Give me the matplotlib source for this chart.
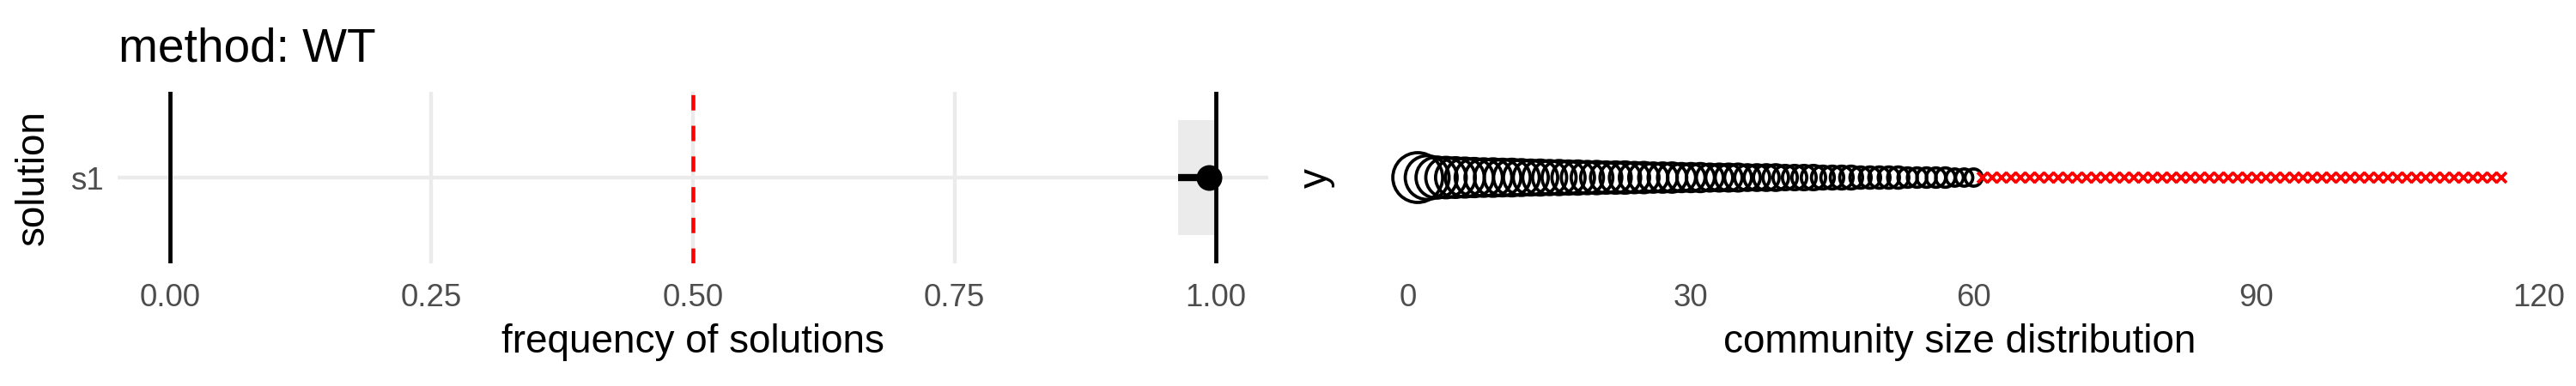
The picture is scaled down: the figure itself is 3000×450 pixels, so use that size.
import numpy as np
import matplotlib
matplotlib.use("Agg")
import matplotlib.pyplot as plt

plt.rcParams['font.family'] = ['Liberation Sans', 'DejaVu Sans']

# left panel: frequency of solutions
solutions = ['s1']
freq = [0.993]
freq_lo = [0.964]
freq_hi = [1.0]
ref_lines = [0.0, 1.0]
half_line = 0.5
freq_ticks = [0.0, 0.25, 0.5, 0.75, 1.0]

# right panel: community sizes (sorted), then singletons
comm_sizes = [38, 28, 24, 23, 22, 21, 20, 19, 19, 18,
              18, 17, 16, 16, 15, 15, 14, 14, 13, 13,
              12, 12, 12, 11, 11, 10, 10, 10, 9, 9,
              9, 8, 8, 8, 8, 7, 7, 7, 7, 6,
              6, 6, 6, 5, 5, 5, 5, 4, 4, 4,
              4, 4, 3, 3, 3, 3, 3, 2, 2, 2]
n_singletons = 56
size_ticks = [0, 30, 60, 90, 120]

W, H = 3000, 450
DPI = 300
fig = plt.figure(figsize=(W / DPI, H / DPI), dpi=DPI)
px2pt = 72.0 / DPI

grid_col = '#EBEBEB'
tick_col = '#4D4D4D'

# ---------------- left panel ----------------
ax1 = fig.add_axes([137 / W, (H - 307) / H, 1340 / W, 200 / H])
ypos = np.arange(1, len(solutions) + 1)
ax1.set_xlim(-0.05, 1.05)
ax1.set_ylim(0.4, len(solutions) + 0.6)
for t in freq_ticks:
    ax1.axvline(t, color=grid_col, lw=1.05, zorder=0)
for yy in ypos:
    ax1.axhline(yy, color=grid_col, lw=1.05, zorder=0)
for i, yy in enumerate(ypos):
    ax1.fill_between([freq_lo[i], freq_hi[i]], yy - 0.4, yy + 0.4,
                     color=grid_col, lw=0, zorder=1)
for v in ref_lines:
    ax1.axvline(v, color='black', lw=1.15, zorder=2)
ax1.axvline(half_line, color='#FF0000', lw=1.1, ls=(0, (3.9, 3.9)), zorder=2)
ax1.hlines(ypos, freq_lo, freq_hi, color='black', lw=2.0, zorder=3)
ax1.scatter(freq, ypos, s=(30 * px2pt) ** 2, color='black', zorder=4, lw=0)
ax1.set_xticks(freq_ticks)
ax1.set_xticklabels(['%.2f' % t for t in freq_ticks])
ax1.set_yticks(ypos)
ax1.set_yticklabels(solutions)
ax1.set_xlabel('frequency of solutions', fontsize=11, labelpad=3)
ax1.set_ylabel('solution', fontsize=11, labelpad=5)

# ---------------- right panel ----------------
ax2 = fig.add_axes([1588 / W, (H - 307) / H, 1388 / W, 200 / H])
n_comm = len(comm_sizes)
xc = np.arange(1, n_comm + 1)
xs = np.arange(n_comm + 1, n_comm + n_singletons + 1)
diam_px = 8.7 + 8.0 * np.sqrt(np.array(comm_sizes, dtype=float))
ax2.scatter(xc, np.ones(n_comm), s=(diam_px * px2pt) ** 2,
            facecolors='none', edgecolors='black', lw=0.9, zorder=3)
ax2.plot(xs, np.ones(n_singletons), ls='none', marker='x', color='#FF0000',
         ms=2.8, mew=0.9, zorder=3)
ax2.set_xlim(-4.75, 121.75)
ax2.set_ylim(0.4, 1.6)
ax2.set_xticks(size_ticks)
ax2.set_yticks([])
ax2.set_xlabel('community size distribution', fontsize=11, labelpad=3)
ax2.set_ylabel('y', fontsize=11, labelpad=8)

for ax in (ax1, ax2):
    for sp in ax.spines.values():
        sp.set_visible(False)
    ax.tick_params(length=0, labelsize=8.8, labelcolor=tick_col)
    ax.tick_params(axis='x', pad=5.5)
    ax.tick_params(axis='y', pad=4)

fig.text(138 / W, 1 - 72 / H, 'method: WT', fontsize=13.2, ha='left',
         va='baseline')

fig.savefig('out.png', dpi=DPI)
